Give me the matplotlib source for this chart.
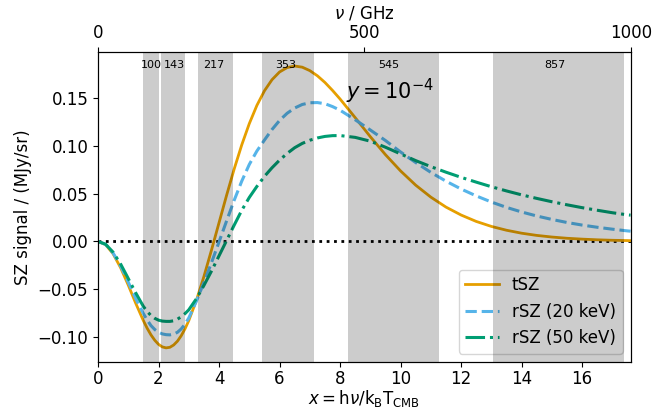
import matplotlib
matplotlib.use('Agg')
import matplotlib.pyplot as plt

# x = h nu / k_B T_CMB sample points (denser around the decrement minimum)
x_points = [0.0, 0.25, 0.5, 0.75, 1.0, 1.25, 1.5, 1.625, 1.75, 1.875, 2.0,
            2.125, 2.25, 2.375, 2.5, 2.625, 2.75, 2.875,
            3.0, 3.25, 3.5, 3.75, 4.0, 4.25, 4.5, 4.75, 5.0, 5.25, 5.5, 5.75,
            6.0, 6.25, 6.5, 6.75, 7.0, 7.25, 7.5, 7.75, 8.0,
            8.5, 9.0, 9.5, 10.0, 10.5, 11.0, 11.5, 12.0, 12.5, 13.0, 13.5,
            14.0, 14.5, 15.0, 15.5, 16.0, 16.5, 17.0, 17.5, 17.6]

tsz = [0.0, -0.0033, -0.0130, -0.0277, -0.0457, -0.0649, -0.0829, -0.0908,
       -0.0977, -0.1033, -0.1076, -0.1103, -0.1113, -0.1107, -0.1083, -0.1043,
       -0.0986, -0.0914,
       -0.0828, -0.0617, -0.0367, -0.0091, 0.0196, 0.0483, 0.0757, 0.1009,
       0.1232, 0.1422, 0.1575, 0.1691,
       0.1772, 0.1818, 0.1834, 0.1822, 0.1786, 0.1732, 0.1662, 0.1579, 0.1489,
       0.1294, 0.1095, 0.0907, 0.0737, 0.0588, 0.0463, 0.0359, 0.0276, 0.0209,
       0.0157, 0.0117, 0.0086, 0.0063, 0.0046, 0.0033, 0.0024, 0.0017, 0.0012,
       0.0009, 0.0008]

rsz_20kev = [0.0, -0.0031, -0.0122, -0.0258, -0.0425, -0.0600, -0.0755, -0.0822,
             -0.0880, -0.0921, -0.0950, -0.0967, -0.0975, -0.0977, -0.0970, -0.0950,
             -0.0915, -0.0865,
             -0.0800, -0.0625, -0.0430, -0.0222, -0.0005, 0.0215, 0.0430, 0.0630,
             0.0805, 0.0945, 0.1060, 0.1170,
             0.1265, 0.1340, 0.1395, 0.1432, 0.1450, 0.1452, 0.1440, 0.1410, 0.1372,
             0.1272, 0.1165, 0.1055, 0.0935, 0.0825, 0.0722, 0.0630, 0.0548, 0.0476,
             0.0412, 0.0356, 0.0308, 0.0266, 0.0230, 0.0198, 0.0171, 0.0148, 0.0128,
             0.0110, 0.0107]

rsz_50kev = [0.0, -0.0029, -0.0113, -0.0238, -0.0388, -0.0540, -0.0680, -0.0732,
             -0.0775, -0.0804, -0.0823, -0.0833, -0.0836, -0.0836, -0.0830, -0.0813,
             -0.0788, -0.0755,
             -0.0715, -0.0600, -0.0460, -0.0310, -0.0150, 0.0010, 0.0170, 0.0325,
             0.0460, 0.0575, 0.0680, 0.0770,
             0.0850, 0.0920, 0.0980, 0.1025, 0.1058, 0.1082, 0.1098, 0.1106, 0.1107,
             0.1088, 0.1048, 0.0985, 0.0915, 0.0845, 0.0782, 0.0724, 0.0670, 0.0620,
             0.0572, 0.0528, 0.0487, 0.0450, 0.0415, 0.0383, 0.0353, 0.0326, 0.0300,
             0.0278, 0.0275]

# Planck bands (GHz)
band_names = ['100', '143', '217', '353', '545', '857']
band_centres = [100, 143, 217, 353, 545, 857]
band_lo = [85, 118, 188, 308, 469, 742]
band_hi = [115, 163, 253, 406, 640, 987]

x_max = 17.61  # x at 1000 GHz

plt.rcParams['font.size'] = 12

fig, ax = plt.subplots(figsize=(6.69, 4.09), dpi=100)
fig.subplots_adjust(left=0.1465, right=0.943, bottom=0.115, top=0.873)

ax.axhline(0, color='k', linestyle=':', linewidth=2)
ax.plot(x_points, tsz, color='#E69F00', linewidth=2, label='tSZ')
ax.plot(x_points, rsz_20kev, color='#56B4E9', linewidth=2.2, linestyle='--', label='rSZ (20 keV)')
ax.plot(x_points, rsz_50kev, color='#009E73', linewidth=2.2, linestyle='-.', label='rSZ (50 keV)')

ax.text(8.2, 0.157, r'$y = 10^{-4}$', fontsize=15, va='center')

ax.set_xlim(0, x_max)
ax.tick_params(axis='x', pad=2)
ax.set_xlabel(r'$x = \mathrm{h}\nu/\mathrm{k}_\mathrm{B}\mathrm{T}_\mathrm{CMB}$', labelpad=0)
ax.set_ylabel('SZ signal / (MJy/sr)')
ax.legend(loc='lower right')

ax2 = ax.twiny()
ax2.set_xlim(0, 1000)
ax2.set_xticks([0, 500, 1000])
ax2.set_xlabel(r'$\nu$ / GHz')

for name, centre, lo, hi in zip(band_names, band_centres, band_lo, band_hi):
    ax2.axvspan(lo, hi, color='k', alpha=0.2, linewidth=0)
    ax2.text(centre, 0.958, name, fontsize=8, ha='center', va='center',
             transform=ax2.get_xaxis_transform())

plt.savefig('out.png', dpi=100)
plt.close(fig)
